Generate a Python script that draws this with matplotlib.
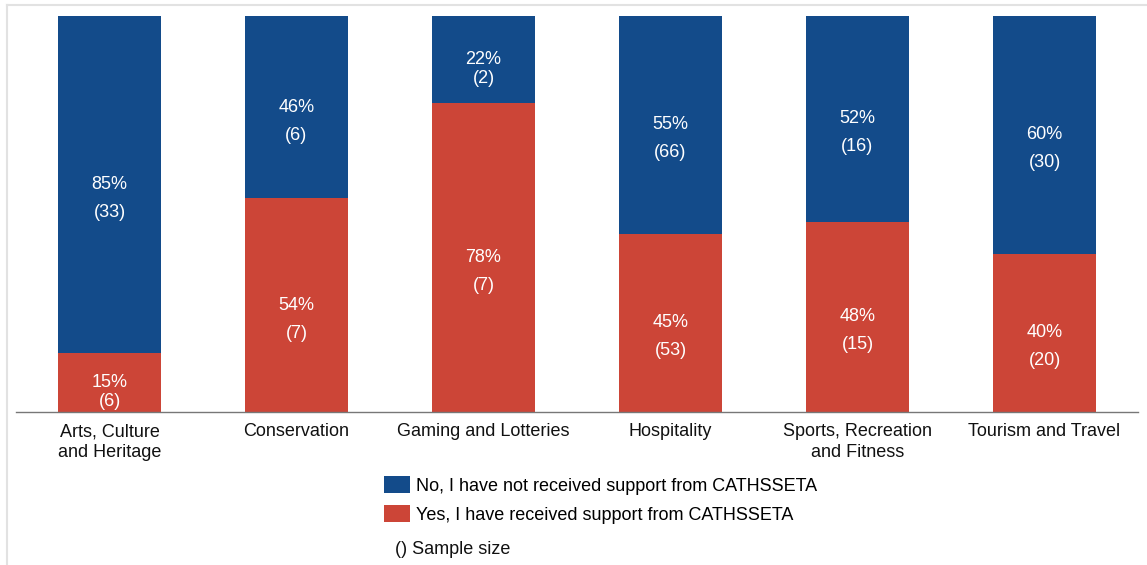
import matplotlib
matplotlib.use("Agg")
import matplotlib.pyplot as plt
from matplotlib.patches import Patch
from matplotlib.lines import Line2D
import numpy as np

plt.rcParams['font.family'] = ['Liberation Sans', 'DejaVu Sans']

categories = ["Arts, Culture\nand Heritage", "Conservation", "Gaming and Lotteries",
              "Hospitality", "Sports, Recreation\nand Fitness", "Tourism and Travel"]
yes_pct = [15, 54, 78, 45, 48, 40]
no_pct = [85, 46, 22, 55, 52, 60]
yes_n = [6, 7, 7, 53, 15, 20]
no_n = [33, 6, 2, 66, 16, 30]
series_labels = ["No, I have not received support from CATHSSETA",
                 "Yes, I have received support from CATHSSETA"]

BLUE = "#134B8A"
RED = "#CC4537"

W, H = 1147, 565
fig = plt.figure(figsize=(W/100, H/100), dpi=100)
ax = fig.add_axes([16/W, 1-412/H, 1122/W, 396/H])

x = np.arange(len(categories))
ax.bar(x, yes_pct, width=0.556, color=RED, zorder=2)
ax.bar(x, no_pct, bottom=yes_pct, width=0.556, color=BLUE, zorder=2)

def seg_label(xc, bottom, h, pct, n):
    yc = bottom + h/2
    gap = 28 if h >= 25 else 19
    ax.annotate(f"{pct}%", (xc, yc), ha='center', va='center', color='white', fontsize=13)
    ax.annotate(f"({n})", (xc, yc), xytext=(0, -gap*0.72), textcoords='offset points',
                ha='center', va='center', color='white', fontsize=13)

for i in range(len(categories)):
    seg_label(x[i], 0, yes_pct[i], yes_pct[i], yes_n[i])
    seg_label(x[i], yes_pct[i], no_pct[i], no_pct[i], no_n[i])

ax.set_xlim(-0.5, len(categories)-0.5)
ax.set_ylim(0, 100)
ax.set_yticks([])
ax.set_xticks(x)
ax.set_xticklabels(categories, fontsize=13, color='#111111', linespacing=1.33)
ax.tick_params(axis='x', length=0, pad=8)
for s in ['top', 'right', 'left']:
    ax.spines[s].set_visible(False)
ax.spines['bottom'].set_color('#777777')
ax.spines['bottom'].set_linewidth(1.0)

handles = [Patch(facecolor=BLUE, edgecolor='none'), Patch(facecolor=RED, edgecolor='none')]
fig.legend(handles, series_labels, loc='upper left', bbox_to_anchor=(384/W, 1-476/H),
           frameon=False, fontsize=13, handlelength=1.44, handleheight=1.05,
           handletextpad=0.35, labelspacing=0.6, borderpad=0, borderaxespad=0)
fig.text(395/W, 1-549/H, "() Sample size", fontsize=13, va='center', ha='left', color='#111111')

# light figure border (left and top)
fig.add_artist(Line2D([7/W, 7/W], [0, 1-5/H], color='#E2E2E2', lw=1.5))
fig.add_artist(Line2D([7/W, 1], [1-5/H, 1-5/H], color='#E2E2E2', lw=1.5))

fig.savefig("out.png", dpi=100)
